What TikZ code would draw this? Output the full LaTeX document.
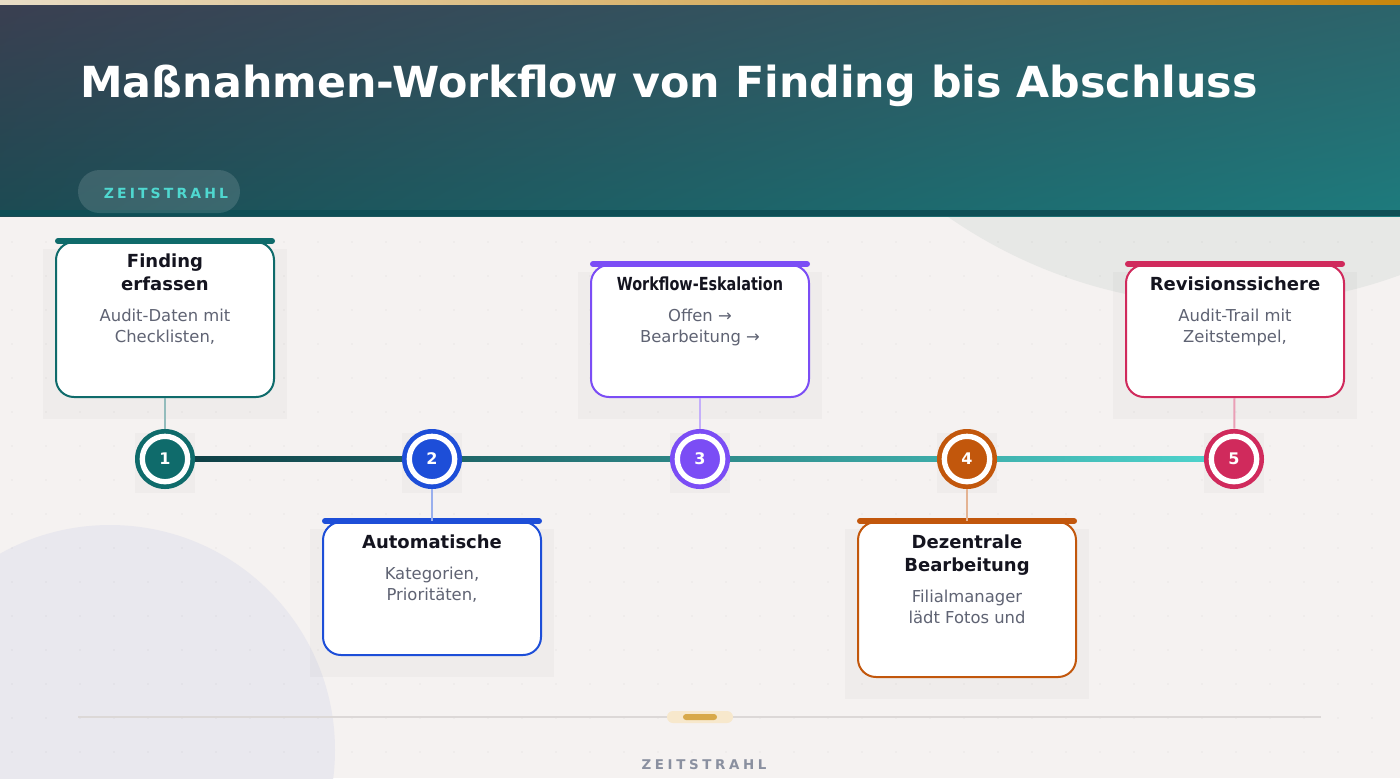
\documentclass[tikz,border=0pt]{standalone}
\usepackage{fontspec}
\setmainfont{DejaVu Sans}
\usetikzlibrary{positioning, calc, shadings}

\definecolor{paper}{HTML}{F5F2F1}
\definecolor{hdA}{HTML}{3B3F51}
\definecolor{hdB}{HTML}{2D636A}
\definecolor{hdC}{HTML}{1C4B53}
\definecolor{hdD}{HTML}{1D7B7D}
\definecolor{hdband}{HTML}{0E4F56}
\definecolor{goldA}{HTML}{E9DDC6}
\definecolor{goldB}{HTML}{D09A2A}
\definecolor{goldC}{HTML}{C8860C}
\definecolor{badgetext}{HTML}{4FD8D0}
\definecolor{blobgrey}{HTML}{E7E8E6}
\definecolor{bloblav}{HTML}{E9E8EE}
\definecolor{inkdark}{HTML}{14141F}
\definecolor{descgrey}{HTML}{5F6373}
\definecolor{ctealA}{HTML}{0F6B6B}
\definecolor{cblue}{HTML}{1D4ED8}
\definecolor{cpurple}{HTML}{7B4DF5}
\definecolor{corange}{HTML}{C2570C}
\definecolor{ccrimson}{HTML}{D02A5C}
\definecolor{tlA}{HTML}{0D3C42}
\definecolor{tlB}{HTML}{2A8B83}
\definecolor{tlC}{HTML}{4FD6CF}
\definecolor{rulegrey}{HTML}{DCD8D7}
\definecolor{pillA}{HTML}{F7E8CC}
\definecolor{pillB}{HTML}{D8A94A}
\definecolor{footgrey}{HTML}{8A90A0}

\pgfdeclarelayer{shade}
\pgfsetlayers{shade,main}

\tikzset{
  card/.style={draw=#1, line width=1pt, fill=white, rounded corners=9pt,
    minimum width=109pt, inner sep=0pt},
  topbar/.style={draw=#1, line width=3pt, line cap=round,
    shorten <=1.5pt, shorten >=1.5pt},
  cardtitle/.style={font=\bfseries\fontsize{9}{11.5}\selectfont, text=inkdark,
    align=center, anchor=north, inner sep=0pt, execute at end node={\vphantom{g}}},
  carddesc/.style={font=\fontsize{8.2}{10.5}\selectfont, text=descgrey,
    align=center, anchor=north, inner sep=0pt},
  markouter/.style={circle, fill=#1, minimum size=30pt, inner sep=0pt},
  markinner/.style={circle, fill=#1, draw=white, line width=2.65pt,
    minimum size=22.7pt, inner sep=0pt, text=white,
    font=\bfseries\fontsize{8}{8}\selectfont},
  stem/.style={draw=#1!45, line width=1pt},
  softshade/.style={fill=black, opacity=0.025},
  badgefont/.style={font=\bfseries\fontsize{7}{8}\selectfont\addfontfeatures{LetterSpace=22}},
  footfont/.style={font=\bfseries\fontsize{6.7}{8}\selectfont\addfontfeatures{LetterSpace=27}},
}

\begin{document}
\begin{tikzpicture}[x=0.5pt, y=-0.5pt]
    \useasboundingbox (0,0) rectangle (1400,778);
    \begin{pgfonlayer}{shade}
    \fill[paper] (0,0) rectangle (1400,778);
    \fill[blobgrey] (1230,-190) circle (495);
    \fill[bloblav] (110,750) circle (225);
    \foreach \gx in {12,46,...,1400}
      \foreach \gy in {242,276,...,778}
        \fill[black, opacity=0.03] (\gx,\gy) circle (1.2);
    \shade[upper left=hdA, upper right=hdB, lower left=hdC, lower right=hdD]
      (0,0) rectangle (1400,216);
    \fill[hdband] (0,210) rectangle (1400,216);
    \shade[left color=goldA, middle color=goldB, right color=goldC] (0,0) rectangle (1400,4);
    \end{pgfonlayer}

    \node[anchor=base west, inner sep=0pt, text=white,
      font=\bfseries\fontsize{21.4}{26}\selectfont] (title) at (80,97)
      {Maßnahmen-Workflow von Finding bis Abschluss};
    \node[fill=white, fill opacity=0.13, rounded corners=10.75pt,
      minimum width=81pt, minimum height=21.5pt, inner sep=0pt] (badge) at (159,191.5) {};
    \node[badgefont, text=badgetext, inner sep=0pt] (badgetxt) at (166,193) {ZEITSTRAHL};

    \node[markouter=ctealA] (m1) at (165,459) {};
    \node[markinner=ctealA] (n1) at (m1) {1};
    \node[markouter=cblue] (m2) at (432,459) {};
    \node[markinner=cblue] (n2) at (m2) {2};
    \node[markouter=cpurple] (m3) at (700,459) {};
    \node[markinner=cpurple] (n3) at (m3) {3};
    \node[markouter=corange] (m4) at (967,459) {};
    \node[markinner=corange] (n4) at (m4) {4};
    \node[markouter=ccrimson] (m5) at (1234,459) {};
    \node[markinner=ccrimson] (n5) at (m5) {5};

    \node[card=ctealA, minimum height=77.5pt] (c1) at (165,319.5) {};
    \node[card=cblue, minimum height=66.5pt] (c2) at (432,588.5) {};
    \node[card=cpurple, minimum height=66pt] (c3) at (700,331) {};
    \node[card=corange, minimum height=77.5pt] (c4) at (967,599.5) {};
    \node[card=ccrimson, minimum height=66pt] (c5) at (1235,331) {};

    \draw[topbar=ctealA] (c1.north west) -- (c1.north east);
    \draw[topbar=cblue] (c2.north west) -- (c2.north east);
    \draw[topbar=cpurple] (c3.north west) -- (c3.north east);
    \draw[topbar=corange] (c4.north west) -- (c4.north east);
    \draw[topbar=ccrimson] (c5.north west) -- (c5.north east);

    \node[cardtitle] (t1) at (165,253) {Finding\\erfassen};
    \node[carddesc, below=7pt of t1] (d1) {Audit-Daten mit\\Checklisten,};
    \node[cardtitle] (t2) at (432,534) {Automatische};
    \node[carddesc, below=7pt of t2] (d2) {Kategorien,\\Prioritäten,};
    \node[cardtitle, font=\bfseries\fontsize{9}{11.5}\selectfont\addfontfeatures{FakeStretch=0.8}]
      (t3) at (700,276) {Workflow-Eskalation};
    \node[carddesc, below=7pt of t3] (d3) {Offen →\\Bearbeitung →};
    \node[cardtitle] (t4) at (967,534) {Dezentrale\\Bearbeitung};
    \node[carddesc, below=7pt of t4] (d4) {Filialmanager\\lädt Fotos und};
    \node[cardtitle] (t5) at (1235,276) {Revisionssichere};
    \node[carddesc, below=7pt of t5] (d5) {Audit-Trail mit\\Zeitstempel,};

    \begin{pgfonlayer}{shade}
    \foreach \c in {c1,c2,c3,c4,c5}
      \fill[softshade] ($(\c.north west)+(-12,8)$) rectangle ($(\c.south east)+(12,21)$);
    \foreach \m in {m1,m2,m3,m4,m5}
      \fill[softshade] ($(\m.center)+(-30,-26)$) rectangle ($(\m.center)+(30,34)$);
    \shade[left color=tlA, middle color=tlB, right color=tlC]
      ($(m1.center)+(0,-2.5)$) rectangle ($(m5.center)+(0,2.5)$);
    \end{pgfonlayer}

    \draw[stem=ctealA] (c1) -- (m1);
    \draw[stem=cblue] (m2) -- (c2);
    \draw[stem=cpurple] (c3) -- (m3);
    \draw[stem=corange] (m4) -- (c4);
    \draw[stem=ccrimson] (c5) -- (m5);

    \coordinate (rl) at (78,717);
    \coordinate (rr) at (1321,717);
    \draw[rulegrey, line width=0.6pt] (rl) -- (rr);
    \node[fill=pillA, rounded corners=3pt, minimum width=33pt, minimum height=6pt,
      inner sep=0pt] (pillouter) at (700,717) {};
    \node[fill=pillB, rounded corners=1.5pt, minimum width=17pt, minimum height=3pt,
      inner sep=0pt] (pillinner) at (pillouter) {};
    \node[footfont, text=footgrey, inner sep=0pt] (foot) at (704,765) {ZEITSTRAHL};
\end{tikzpicture}
\end{document}
